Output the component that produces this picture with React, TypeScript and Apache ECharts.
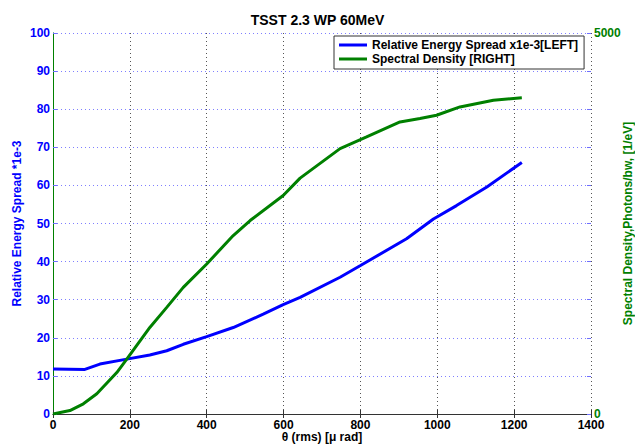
import React, { useEffect, useRef } from "react";
import * as echarts from "echarts";

const xTicks = [0, 200, 400, 600, 800, 1000, 1200, 1400];
const spreadTheta = [0, 83, 122, 192, 252, 296, 339, 400, 469, 547, 599, 643, 747, 799, 920, 990, 1050, 1129, 1220];
const spreadValues = [11.8, 11.7, 13.1, 14.4, 15.5, 16.6, 18.3, 20.3, 22.7, 26.2, 28.7, 30.6, 35.9, 38.9, 46.0, 51.2, 54.7, 59.6, 66.0];
const densityTheta = [0, 44, 79, 114, 166, 192, 252, 296, 339, 400, 469, 513, 599, 643, 747, 816, 903, 955, 998, 1059, 1146, 1220];
const densityValues = [0, 45, 134, 265, 544, 719, 1136, 1399, 1662, 1969, 2342, 2539, 2868, 3095, 3483, 3636, 3833, 3877, 3921, 4030, 4118, 4149];

const FONT = "'Liberation Sans', Arial, sans-serif";
const BLUE = "#0000ff";
const GREEN = "#008000";
const plain = (v: number) => String(v);

export default function App() {
  const ref = useRef<HTMLDivElement>(null);
  useEffect(() => {
    document.body.style.margin = "0";
    if (!ref.current) return;
    const chart = echarts.init(ref.current, undefined, { renderer: "svg" });
    const spreadData = spreadTheta.map((x, i) => [x, spreadValues[i]]);
    const densityData = densityTheta.map((x, i) => [x, densityValues[i]]);
    chart.setOption({
      animation: false,
      backgroundColor: "#ffffff",
      title: {
        text: "TSST 2.3 WP 60MeV",
        left: "center",
        top: 8,
        textStyle: { fontFamily: FONT, fontWeight: "bold", fontSize: 14, color: "#000" },
      },
      legend: {
        left: 334,
        top: 36,
        orient: "vertical",
        padding: [3, 6, 4, 5],
        itemGap: 2,
        itemWidth: 28,
        itemHeight: 3,
        icon: "rect",
        backgroundColor: "#fff",
        borderColor: "#333",
        borderWidth: 1,
        borderRadius: 0,
        textStyle: { fontFamily: FONT, fontWeight: "bold", fontSize: 12, color: "#000" },
        data: ["Relative Energy Spread x1e-3[LEFT]", "Spectral Density [RIGHT]"],
      },
      grid: { left: 53, right: 44, top: 33, bottom: 31, containLabel: false, outerBoundsMode: "none" },
      xAxis: [
        {
          type: "value",
          min: xTicks[0],
          max: xTicks[xTicks.length - 1],
          interval: xTicks[1] - xTicks[0],
          position: "bottom",
          name: "θ (rms) [μ rad]",
          nameLocation: "middle",
          nameGap: 17,
          nameMoveOverlap: false,
          nameTextStyle: { fontFamily: FONT, fontWeight: "bold", fontSize: 12, color: "#000", lineHeight: 12 },
          axisLine: { lineStyle: { color: "#333", width: 1 } },
          axisTick: { inside: true, length: 4, lineStyle: { color: "#333" } },
          axisLabel: { fontFamily: FONT, fontWeight: "bold", fontSize: 12, lineHeight: 12, color: "#000", margin: 5, formatter: plain },
          splitLine: { show: true, lineStyle: { type: [1, 3], color: "#555", width: 1 } },
        },
        {
          type: "value",
          min: xTicks[0],
          max: xTicks[xTicks.length - 1],
          interval: xTicks[1] - xTicks[0],
          position: "top",
          axisLine: { show: true, lineStyle: { color: "#333", width: 1 } },
          axisTick: { inside: true, length: 4, lineStyle: { color: "#333" } },
          axisLabel: { show: false },
          splitLine: { show: false },
        },
      ],
      yAxis: [
        {
          type: "value",
          min: 0,
          max: 100,
          interval: 10,
          position: "left",
          name: "Relative Energy Spread *1e-3",
          nameLocation: "middle",
          nameGap: 30,
          nameRotate: 90,
          nameMoveOverlap: false,
          nameTextStyle: { fontFamily: FONT, fontWeight: "bold", fontSize: 12, color: BLUE, lineHeight: 12 },
          axisLine: { show: true, lineStyle: { color: "#8f8fff", width: 1 } },
          axisTick: { show: true, inside: true, length: 4, lineStyle: { color: "#6f6fff" } },
          axisLabel: { fontFamily: FONT, fontWeight: "bold", fontSize: 12, lineHeight: 12, color: BLUE, margin: 3, formatter: plain },
          splitLine: { show: true, lineStyle: { type: [1, 3], color: "#7f7fff", width: 1 } },
        },
        {
          type: "value",
          min: 0,
          max: 5000,
          interval: 5000,
          position: "right",
          name: "Spectral Density,Photons/bw, [1/eV]",
          nameLocation: "middle",
          nameGap: 31,
          nameRotate: 90,
          nameMoveOverlap: false,
          nameTextStyle: { fontFamily: FONT, fontWeight: "bold", fontSize: 12, color: GREEN, lineHeight: 12 },
          axisLine: { show: true, lineStyle: { color: GREEN, width: 1 } },
          axisTick: { show: false },
          axisLabel: { fontFamily: FONT, fontWeight: "bold", fontSize: 12, lineHeight: 10, color: GREEN, margin: 3, formatter: plain },
          splitLine: { show: false },
        },
        {
          type: "value",
          min: 0,
          max: 100,
          interval: 10,
          position: "right",
          axisLine: { show: false },
          axisTick: { show: true, inside: true, length: 4, lineStyle: { color: "#6f6fff" } },
          axisLabel: { show: false },
          splitLine: { show: false },
        },
      ],
      series: [
        {
          name: "Relative Energy Spread x1e-3[LEFT]",
          type: "line",
          xAxisIndex: 0,
          yAxisIndex: 0,
          data: spreadData,
          showSymbol: false,
          symbol: "none",
          color: BLUE,
          lineStyle: { color: BLUE, width: 3 },
          z: 3,
        },
        {
          name: "Spectral Density [RIGHT]",
          type: "line",
          xAxisIndex: 0,
          yAxisIndex: 1,
          data: densityData,
          showSymbol: false,
          symbol: "none",
          color: GREEN,
          lineStyle: { color: GREEN, width: 3 },
          z: 3,
        },
      ],
    });
    return () => chart.dispose();
  }, []);
  return <div ref={ref} style={{ width: 635, height: 445 }} />;
}
